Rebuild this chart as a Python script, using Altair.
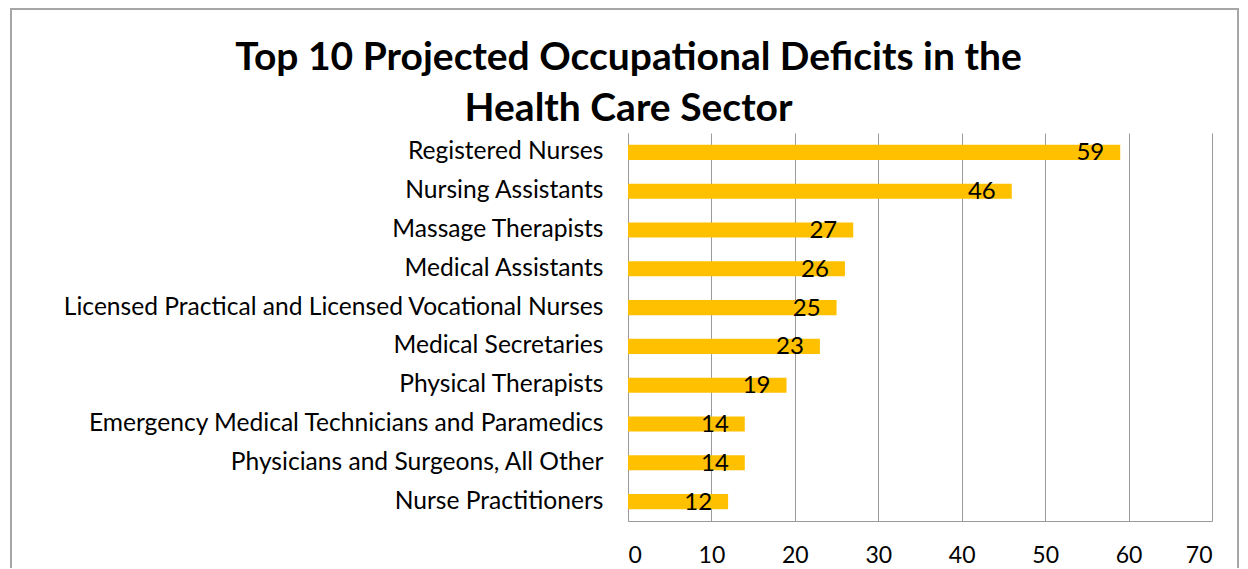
import altair as alt
import pandas as pd

occupations = [
    "Registered Nurses",
    "Nursing Assistants",
    "Massage Therapists",
    "Medical Assistants",
    "Licensed Practical and Licensed Vocational Nurses",
    "Medical Secretaries",
    "Physical Therapists",
    "Emergency Medical Technicians and Paramedics",
    "Physicians and Surgeons, All Other",
    "Nurse Practitioners",
]
deficits = [59, 46, 27, 26, 25, 23, 19, 14, 14, 12]
x_ticks = [0, 10, 20, 30, 40, 50, 60, 70]
title_lines = ["Top 10 Projected Occupational Deficits in the", "Health Care Sector"]

df = pd.DataFrame({"occupation": occupations, "deficit": deficits})

FONT = "Lato"
W, H = 584, 388

y_enc = alt.Y(
    "occupation:N",
    sort=occupations,
    scale=alt.Scale(paddingInner=0.61, paddingOuter=0.305),
    axis=alt.Axis(
        title=None,
        labelFont=FONT,
        labelFontSize=24.6,
        labelColor="#000000",
        labelPadding=25,
        ticks=False,
        domainColor="#9a9a9a",
        labelLimit=800,
    ),
)
x_enc = alt.X(
    "deficit:Q",
    scale=alt.Scale(domain=[0, 70], nice=False),
    axis=alt.Axis(
        title=None,
        values=x_ticks,
        labelFont=FONT,
        labelFontSize=23,
        labelColor="#000000",
        labelBaseline="alphabetic",
        labelPadding=41,
        ticks=False,
        grid=True,
        gridColor="#9a9a9a",
        domainColor="#9a9a9a",
    ),
)

bars = alt.Chart(df).mark_bar(color="#FFC000").encode(x=x_enc, y=y_enc)

labels = alt.Chart(df).mark_text(
    align="right", baseline="middle", dx=-16, dy=1, font=FONT, fontSize=24, color="#000000"
).encode(x=alt.X("deficit:Q"), y=alt.Y("occupation:N", sort=occupations), text=alt.Text("deficit:Q"))

frame = alt.Chart(df).mark_rect(fill=None, stroke="#a6a6a6", strokeWidth=2, clip=False).encode(
    x=alt.value(-617), x2=alt.value(610), y=alt.value(-124), y2=alt.value(H + 80)
)

title1 = alt.Chart(pd.DataFrame({"t": [title_lines[0]]})).mark_text(
    align="center", baseline="alphabetic", font=FONT, fontSize=39, fontWeight="bold", color="#000000"
).encode(text="t:N", x=alt.value(0.5), y=alt.value(-63))
title2 = alt.Chart(pd.DataFrame({"t": [title_lines[1]]})).mark_text(
    align="center", baseline="alphabetic", font=FONT, fontSize=39, fontWeight="bold", color="#000000"
).encode(text="t:N", x=alt.value(0.5), y=alt.value(-12))

chart = alt.layer(frame, bars, labels, title1, title2).properties(
    width=W,
    height=H,
    autosize=alt.AutoSizeParams(type="none"),
    padding={"left": 620, "top": 125, "right": 28, "bottom": 47},
).configure_view(stroke=None)

chart.save("out.html", embed_options={"renderer": "svg", "actions": False})
